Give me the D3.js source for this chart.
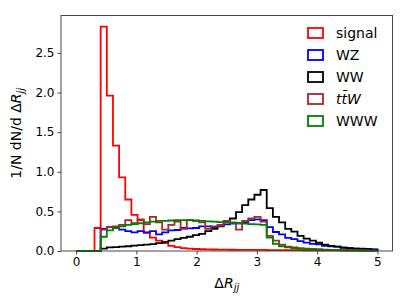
<!DOCTYPE html>
<html><head><meta charset="utf-8">
<script src="https://cdn.jsdelivr.net/npm/d3@7"></script>
<style>body{margin:0;background:#fff}svg text{font-family:"DejaVu Sans",sans-serif}</style>
</head><body><svg id="c" width="407" height="305"></svg>
<script>
const nBins = 49, xMin = 0, xMax = 5;
const signal = [0,0,0,0.29,2.83,1.96,1.33,0.93,0.65,0.455,0.39,0.23,0.17,0.13,0.10,0.065,0.048,0.036,0.03,0.025,0.022,0.02,0.019,0.018,0.017,0.016,0.015,0.014,0.014,0.013,0.013,0.012,0.012,0.011,0.011,0.01,0.01,0.009,0.009,0.008,0.008,0.007,0.007,0.006,0.006,0.005,0.005,0.005,0.004];
const WZ = [0,0,0,0,0.28,0.30,0.29,0.27,0.25,0.235,0.25,0.235,0.25,0.21,0.235,0.26,0.265,0.29,0.285,0.29,0.31,0.31,0.30,0.325,0.335,0.345,0.35,0.36,0.39,0.40,0.39,0.30,0.24,0.21,0.165,0.15,0.125,0.105,0.09,0.085,0.065,0.06,0.055,0.045,0.035,0.033,0.03,0.025,0.02];
const WW = [0,0,0,0,0.03,0.045,0.05,0.055,0.06,0.068,0.075,0.08,0.088,0.10,0.115,0.13,0.15,0.165,0.18,0.20,0.215,0.25,0.28,0.31,0.37,0.41,0.49,0.58,0.65,0.71,0.77,0.54,0.43,0.36,0.28,0.245,0.19,0.155,0.13,0.105,0.08,0.065,0.055,0.04,0.035,0.028,0.025,0.02,0.018];
const ttW = [0,0,0,0,0.27,0.30,0.31,0.33,0.39,0.35,0.40,0.34,0.43,0.36,0.27,0.33,0.37,0.28,0.39,0.38,0.36,0.28,0.31,0.32,0.38,0.36,0.27,0.38,0.41,0.43,0.37,0.19,0.13,0.08,0.055,0.045,0.035,0.03,0.028,0.022,0.018,0.015,0.012,0.01,0.008,0.007,0.006,0.005,0.004];
const WWW = [0,0,0,0,0.18,0.26,0.29,0.31,0.33,0.34,0.35,0.36,0.37,0.38,0.38,0.385,0.39,0.39,0.39,0.385,0.38,0.375,0.37,0.365,0.36,0.355,0.35,0.345,0.34,0.335,0.33,0.17,0.09,0.06,0.045,0.035,0.028,0.022,0.018,0.015,0.012,0.011,0.01,0.009,0.008,0.007,0.006,0.005,0.005];
const seriesNames = ["signal","WZ","WW","ttW","WWW"];
const seriesColors = ["#ff0000","#0000ff","#000000","#a52a2a","#008000"];
const xTicks = [0,1,2,3,4,5];
const yTicks = [0.0,0.5,1.0,1.5,2.0,2.5];

const seriesData = [signal, WZ, WW, ttW, WWW];
const edges = d3.range(nBins+1).map(i => xMin + i*(xMax-xMin)/nBins);
const peak = d3.max(seriesData.flat());

const svg = d3.select("#c");
const L=61, R=392.5, T=15.5, B=251;
const x = d3.scaleLinear().domain([xMin-0.05*(xMax-xMin), xMax+0.05*(xMax-xMin)]).range([L,R]);
const y = d3.scaleLinear().domain([0, peak*1.05]).range([B,T]);

const line = d3.line().x(d=>x(d[0])).y(d=>y(d[1]));
seriesData.forEach((vals,s)=>{
  const pts=[[edges[0],0]];
  vals.forEach((v,i)=>{pts.push([edges[i],v]);pts.push([edges[i+1],v]);});
  pts.push([edges[nBins],0]);
  svg.append("path").attr("d",line(pts)).attr("fill","none")
    .attr("stroke",seriesColors[s]).attr("stroke-width",1.8).attr("stroke-linejoin","miter");
});

// axes
const xAxis = d3.axisBottom(x).tickValues(xTicks).tickFormat(d3.format("d")).tickSize(3.5).tickPadding(3);
const yAxis = d3.axisLeft(y).tickValues(yTicks).tickFormat(d3.format(".1f")).tickSize(3.5).tickPadding(3);
const gx = svg.append("g").attr("transform",`translate(0,${B})`).call(xAxis);
const gy = svg.append("g").attr("transform",`translate(${L},0)`).call(yAxis);
[gx,gy].forEach(g=>{g.select(".domain").remove();
  g.selectAll("line").attr("stroke","#333").attr("stroke-width",0.9);
  g.selectAll("text").attr("fill","#000").style("font-size","12px").style("font-family","DejaVu Sans");});
svg.append("rect").attr("x",L).attr("y",T).attr("width",R-L).attr("height",B-T)
  .attr("fill","none").attr("stroke","#333").attr("stroke-width",0.9);

// x label
const xl = svg.append("text").attr("x",(L+R)/2).attr("y",288).attr("text-anchor","middle").style("font-size","14px");
xl.append("tspan").text("Δ");
xl.append("tspan").attr("font-style","italic").text("R");
xl.append("tspan").attr("font-style","italic").attr("dy",3).style("font-size","10px").text("jj");

// y label
const yl = svg.append("text").attr("transform",`translate(21,${(T+B)/2}) rotate(-90)`).attr("text-anchor","middle").style("font-size","14px");
yl.append("tspan").text("1/N dN/d Δ");
yl.append("tspan").attr("font-style","italic").text("R");
yl.append("tspan").attr("font-style","italic").attr("dy",3).style("font-size","10px").text("jj");

// legend
const leg = svg.append("g");
seriesNames.forEach((n,i)=>{
  const cy = 33 + 22*i;
  leg.append("rect").attr("x",308).attr("y",cy-5).attr("width",15).attr("height",10)
    .attr("fill","none").attr("stroke",seriesColors[i]).attr("stroke-width",1.8);
  const t = leg.append("text").attr("x",336).attr("y",cy+5).style("font-size","14px");
  if(n==="ttW"){ t.attr("font-style","italic").text("tt\u0304W"); }
  else t.text(n);
});
</script></body></html>
